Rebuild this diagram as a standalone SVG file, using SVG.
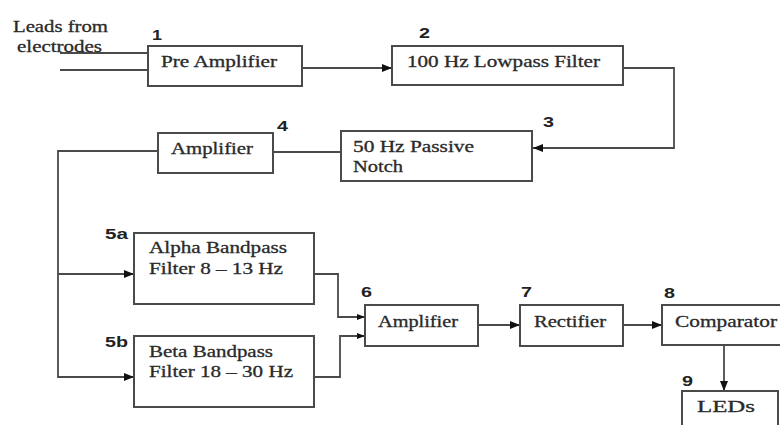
<svg xmlns="http://www.w3.org/2000/svg" width="780" height="425" viewBox="0 0 780 425">
<style>
.box{fill:#fff;stroke:#4a4a4a;stroke-width:2}
.t{font-family:"Liberation Serif","Times New Roman",serif;font-size:16px;fill:#2a2a2a;stroke:#2a2a2a;stroke-width:0.3}
.n{font-family:"Liberation Sans",Arial,sans-serif;font-size:15px;font-weight:bold;fill:#222}
.c{fill:none;stroke:#4a4a4a;stroke-width:1.8}
</style>
<defs>
<marker id="ah" markerWidth="10" markerHeight="8" refX="10" refY="4" orient="auto" markerUnits="userSpaceOnUse">
<path d="M0,0 L10,4 L0,8 Z" fill="#111"/>
</marker>
<marker id="as" markerWidth="8" markerHeight="6" refX="8" refY="3" orient="auto" markerUnits="userSpaceOnUse">
<path d="M0,0 L8,3 L0,6 Z" fill="#111"/>
</marker>
</defs>
<rect width="780" height="425" fill="#fff"/>
<g id="connectors">
<path class="c" d="M60,53 H148"/>
<path class="c" d="M60,70 H148"/>
<path class="c" d="M302,68 H392" marker-end="url(#ah)"/>
<path class="c" d="M623,68 H674 V148 H533" marker-end="url(#ah)"/>
<path class="c" d="M341,152 H274"/>
<path class="c" d="M158,151 H58 V377 H134" marker-end="url(#ah)"/>
<path class="c" d="M58,274 H134" marker-end="url(#ah)"/>
<path class="c" d="M314,274 H338 V317 H365" marker-end="url(#as)"/>
<path class="c" d="M314,377 H340 V336 H365" marker-end="url(#as)"/>
<path class="c" d="M478,325 H520" marker-end="url(#ah)"/>
<path class="c" d="M623,325 H662" marker-end="url(#ah)"/>
<path class="c" d="M724,345 V391" marker-end="url(#ah)"/>
</g>
<g id="leads">
<text class="t" x="13" y="32" textLength="95" lengthAdjust="spacingAndGlyphs">Leads from</text>
<text class="t" x="17" y="52" textLength="85" lengthAdjust="spacingAndGlyphs">electrodes</text>
</g>
<g id="node1">
<rect class="box" x="148" y="46" width="154" height="40"/>
<text class="n" x="152" y="40" textLength="10" lengthAdjust="spacingAndGlyphs">1</text>
<text class="t" x="161" y="67" textLength="116" lengthAdjust="spacingAndGlyphs">Pre Amplifier</text>
</g>
<g id="node2">
<rect class="box" x="392" y="46" width="231" height="39"/>
<text class="n" x="419" y="38" textLength="11" lengthAdjust="spacingAndGlyphs">2</text>
<text class="t" x="407" y="67" textLength="193" lengthAdjust="spacingAndGlyphs">100 Hz Lowpass Filter</text>
</g>
<g id="node3">
<rect class="box" x="341" y="131" width="191" height="50"/>
<text class="n" x="543" y="127" textLength="11" lengthAdjust="spacingAndGlyphs">3</text>
<text class="t" x="353" y="152" textLength="121" lengthAdjust="spacingAndGlyphs">50 Hz Passive</text>
<text class="t" x="353" y="172" textLength="50" lengthAdjust="spacingAndGlyphs">Notch</text>
</g>
<g id="node4">
<rect class="box" x="158" y="133" width="115" height="40"/>
<text class="n" x="277" y="131" textLength="11" lengthAdjust="spacingAndGlyphs">4</text>
<text class="t" x="171" y="154" textLength="82" lengthAdjust="spacingAndGlyphs">Amplifier</text>
</g>
<g id="node5a">
<rect class="box" x="134" y="233" width="180" height="71"/>
<text class="n" x="105" y="239" textLength="23" lengthAdjust="spacingAndGlyphs">5a</text>
<text class="t" x="149" y="253" textLength="138" lengthAdjust="spacingAndGlyphs">Alpha Bandpass</text>
<text class="t" x="149" y="274" textLength="134" lengthAdjust="spacingAndGlyphs">Filter 8 – 13 Hz</text>
</g>
<g id="node5b">
<rect class="box" x="134" y="336" width="180" height="71"/>
<text class="n" x="105" y="347" textLength="23" lengthAdjust="spacingAndGlyphs">5b</text>
<text class="t" x="149" y="357" textLength="124" lengthAdjust="spacingAndGlyphs">Beta Bandpass</text>
<text class="t" x="149" y="377" textLength="144" lengthAdjust="spacingAndGlyphs">Filter 18 – 30 Hz</text>
</g>
<g id="node6">
<rect class="box" x="365" y="305" width="113" height="41"/>
<text class="n" x="361" y="297" textLength="11" lengthAdjust="spacingAndGlyphs">6</text>
<text class="t" x="378" y="327" textLength="80" lengthAdjust="spacingAndGlyphs">Amplifier</text>
</g>
<g id="node7">
<rect class="box" x="520" y="305" width="103" height="41"/>
<text class="n" x="521" y="297" textLength="11" lengthAdjust="spacingAndGlyphs">7</text>
<text class="t" x="534" y="327" textLength="72" lengthAdjust="spacingAndGlyphs">Rectifier</text>
</g>
<g id="node8">
<rect class="box" x="662" y="305" width="130" height="40"/>
<text class="n" x="664" y="298" textLength="11" lengthAdjust="spacingAndGlyphs">8</text>
<text class="t" x="675" y="327" textLength="102" lengthAdjust="spacingAndGlyphs">Comparator</text>
</g>
<g id="node9">
<rect class="box" x="682" y="391" width="96" height="45"/>
<text class="n" x="682" y="386" textLength="11" lengthAdjust="spacingAndGlyphs">9</text>
<text class="t" x="697" y="412" textLength="58" lengthAdjust="spacingAndGlyphs">LEDs</text>
</g>
</svg>
